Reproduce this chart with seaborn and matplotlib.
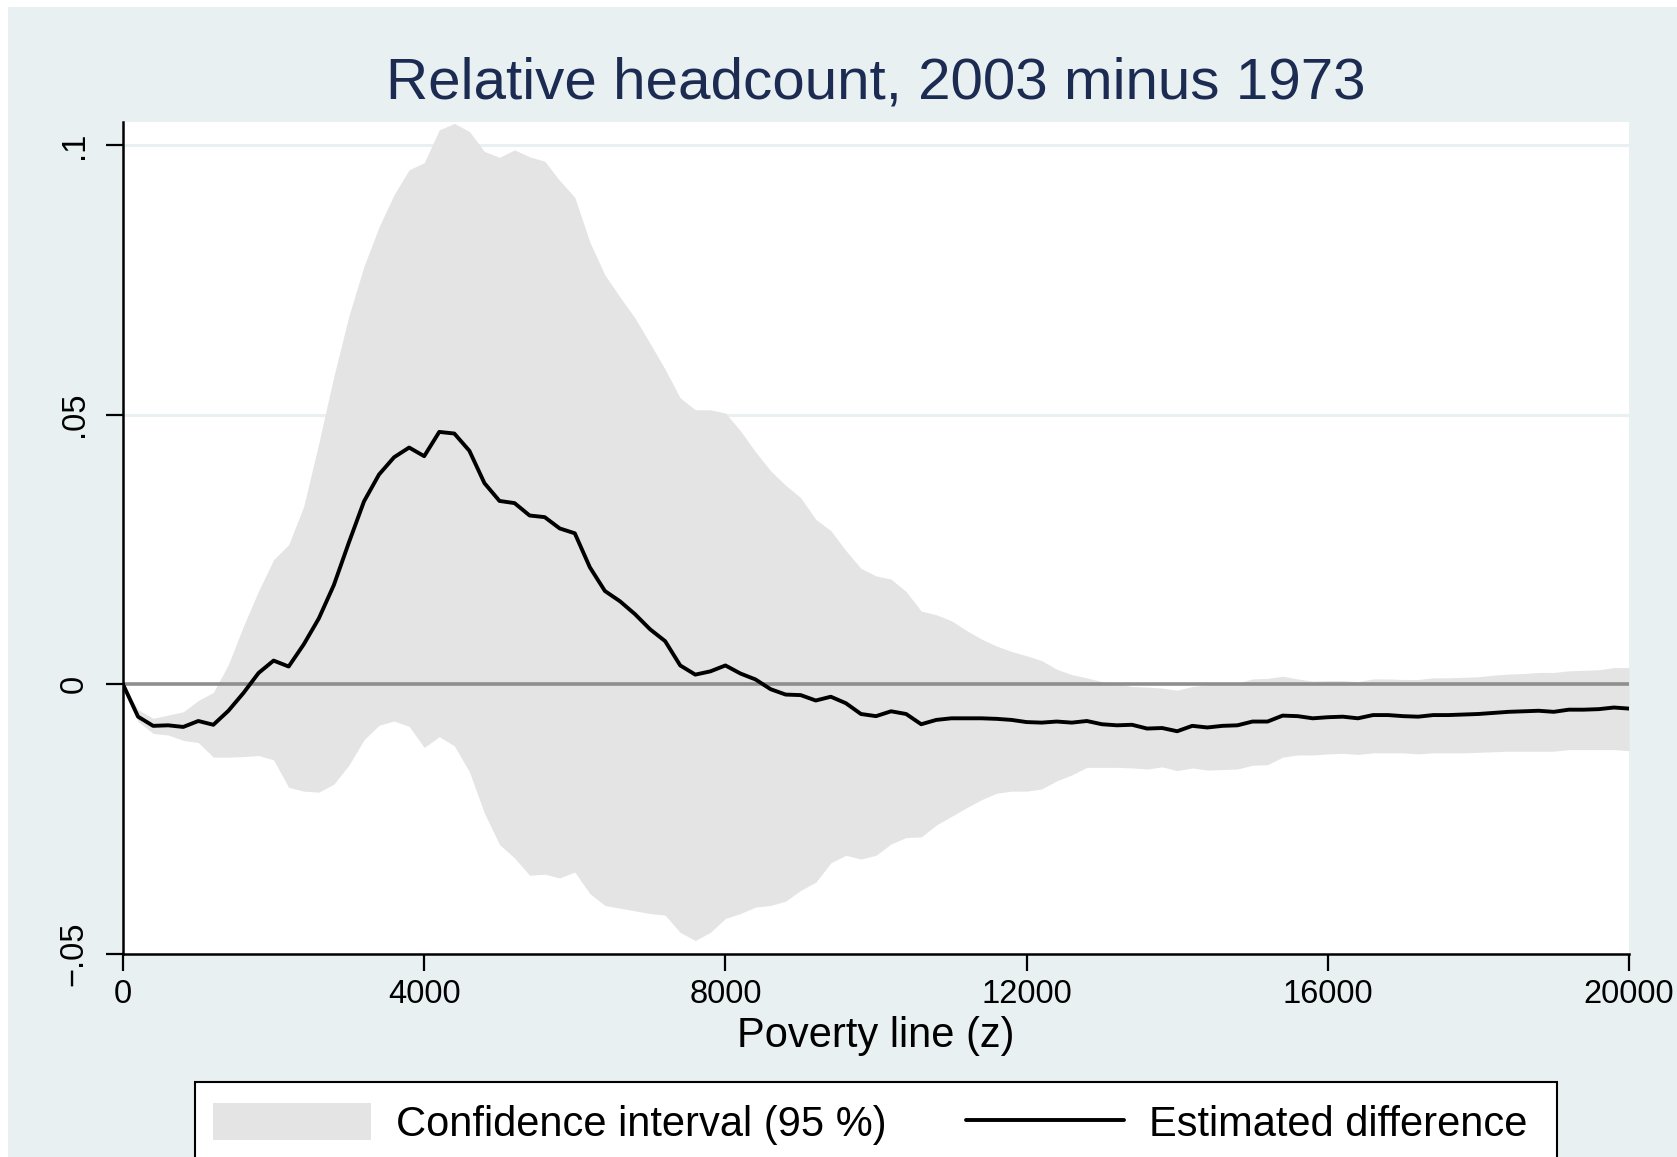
import matplotlib
matplotlib.use("Agg")
import matplotlib.pyplot as plt
import numpy as np
import seaborn as sns
from matplotlib.patches import Rectangle, Patch
from matplotlib.lines import Line2D

# poverty lines (z), steps of 200
poverty_line = np.arange(0, 20001, 200)

estimate = [
    0.0, -0.0060, -0.0077, -0.0076, -0.0079, -0.0068, -0.0075, -0.0049, -0.0016, 0.0021,
    0.0044, 0.0033, 0.0074, 0.0122, 0.0184, 0.0263, 0.0339, 0.0389, 0.0421, 0.0439,
    0.0423, 0.0468, 0.0465, 0.0433, 0.0373, 0.0340, 0.0336, 0.0313, 0.0310, 0.0289,
    0.0280, 0.0217, 0.0173, 0.0154, 0.0130, 0.0102, 0.0080, 0.0035, 0.0018, 0.0024,
    0.0035, 0.0020, 0.0009, -0.0009, -0.0019, -0.0020, -0.0030, -0.0023, -0.0035, -0.0055,
    -0.0059, -0.0050, -0.0055, -0.0074, -0.0066, -0.0063, -0.0063, -0.0063, -0.0064, -0.0066,
    -0.0070, -0.0071, -0.0069, -0.0071, -0.0068, -0.0074, -0.0076, -0.0075, -0.0082, -0.0081,
    -0.0087, -0.0077, -0.0080, -0.0077, -0.0076, -0.0069, -0.0069, -0.0058, -0.0059, -0.0063,
    -0.0061, -0.0060, -0.0063, -0.0057, -0.0057, -0.0059, -0.0060, -0.0057, -0.0057, -0.0056,
    -0.0055, -0.0053, -0.0051, -0.0050, -0.0049, -0.0051, -0.0047, -0.0047, -0.0046, -0.0043,
    -0.0045,
]

ci_upper = [
    0.0, -0.0047, -0.0063, -0.0057, -0.0051, -0.0030, -0.0015, 0.0037, 0.0108, 0.0173,
    0.0231, 0.0259, 0.0330, 0.0447, 0.0571, 0.0683, 0.0775, 0.0848, 0.0908, 0.0954,
    0.0967, 0.1028, 0.1040, 0.1025, 0.0988, 0.0977, 0.0991, 0.0978, 0.0970, 0.0934,
    0.0903, 0.0820, 0.0759, 0.0718, 0.0679, 0.0632, 0.0584, 0.0531, 0.0509, 0.0509,
    0.0503, 0.0470, 0.0431, 0.0396, 0.0369, 0.0346, 0.0306, 0.0285, 0.0248, 0.0215,
    0.0201, 0.0195, 0.0172, 0.0136, 0.0129, 0.0118, 0.0100, 0.0084, 0.0071, 0.0061,
    0.0053, 0.0044, 0.0028, 0.0018, 0.0012, 0.0005, 0.0001, -0.0004, -0.0005, -0.0007,
    -0.0011, -0.0004, -0.0001, 0.0002, 0.0002, 0.0010, 0.0011, 0.0015, 0.0010, 0.0006,
    0.0007, 0.0007, 0.0005, 0.0010, 0.0010, 0.0009, 0.0009, 0.0012, 0.0012, 0.0013,
    0.0014, 0.0017, 0.0019, 0.0020, 0.0022, 0.0022, 0.0025, 0.0026, 0.0027, 0.0031,
    0.0031,
]

ci_lower = [
    0.0, -0.0069, -0.0091, -0.0094, -0.0104, -0.0108, -0.0135, -0.0135, -0.0134, -0.0132,
    -0.0140, -0.0191, -0.0198, -0.0200, -0.0185, -0.0150, -0.0103, -0.0076, -0.0068, -0.0078,
    -0.0117, -0.0097, -0.0114, -0.0162, -0.0239, -0.0297, -0.0322, -0.0354, -0.0352, -0.0359,
    -0.0348, -0.0388, -0.0410, -0.0415, -0.0420, -0.0425, -0.0428, -0.0460, -0.0475, -0.0460,
    -0.0434, -0.0425, -0.0413, -0.0410, -0.0402, -0.0382, -0.0367, -0.0331, -0.0317, -0.0324,
    -0.0317, -0.0296, -0.0284, -0.0283, -0.0261, -0.0245, -0.0229, -0.0214, -0.0202, -0.0198,
    -0.0198, -0.0194, -0.0179, -0.0168, -0.0154, -0.0154, -0.0154, -0.0155, -0.0157, -0.0153,
    -0.0160, -0.0155, -0.0159, -0.0158, -0.0157, -0.0150, -0.0149, -0.0135, -0.0131, -0.0131,
    -0.0129, -0.0128, -0.0130, -0.0127, -0.0127, -0.0127, -0.0129, -0.0127, -0.0127, -0.0127,
    -0.0126, -0.0125, -0.0124, -0.0124, -0.0124, -0.0124, -0.0121, -0.0121, -0.0121, -0.0121,
    -0.0123,
]

y_ticks = [-0.05, 0, 0.05, 0.1]
y_ticklabels = ["\u2212.05", "0", ".05", ".1"]
x_ticks = [0, 4000, 8000, 12000, 16000, 20000]

sns.set_style("ticks")
plt.rcParams['font.family'] = ['Liberation Sans', 'DejaVu Sans']
plt.rcParams['xtick.labelcolor'] = 'black'
plt.rcParams['ytick.labelcolor'] = 'black'
plt.rcParams['text.color'] = 'black'

W, H = 1677, 1157
bg = '#E8F0F2'
band_color = '#E4E4E4'

fig = plt.figure(figsize=(W / 100, H / 100), dpi=100, facecolor='white')
# Stata-style graph region (small white strip on the left and top)
fig.patches.append(Rectangle((8 / W, 0), 1, 1 - 7 / H, transform=fig.transFigure,
                             facecolor=bg, edgecolor='none', zorder=-10))

ax = fig.add_axes([123 / W, (H - 954) / H, (1629 - 123) / W, (954 - 122) / H])
ax.set_facecolor('white')

# grid lines behind everything
for yv in [0.05, 0.1]:
    ax.axhline(yv, color=bg, lw=2.2, zorder=0)

ax.fill_between(poverty_line, ci_lower, ci_upper, color=band_color, lw=0, zorder=1)
ax.axhline(0, color='#8E8E8E', lw=2.6, zorder=2)
sns.lineplot(x=poverty_line, y=estimate, color='black', lw=2.8, ax=ax, zorder=3)

ax.set_xlim(0, 20000)
ax.set_ylim(-0.05, 0.10426)
ax.set_xticks(x_ticks)
ax.set_xticklabels([str(t) for t in x_ticks], fontsize=23.5)
ax.set_yticks(y_ticks)
ax.set_yticklabels(y_ticklabels, fontsize=23.5, rotation=90, va='center')
ax.tick_params(axis='x', length=12, width=1.6, pad=6, color='black')
ax.tick_params(axis='y', length=12, width=1.6, pad=12, color='black')
ax.set_xlabel('')
ax.set_ylabel('')
sns.despine(ax=ax)
for side in ['left', 'bottom']:
    ax.spines[side].set_linewidth(1.8)
    ax.spines[side].set_color('black')

fig.text((123 + 1629) / 2 / W, 1 - 83 / H, 'Relative headcount, 2003 minus 1973',
         ha='center', va='center', fontsize=42, color='#1C2B52')
fig.text((123 + 1629) / 2 / W, 1 - 1036 / H, 'Poverty line (z)',
         ha='center', va='center', fontsize=30, color='black')

# legend box (runs off the bottom edge like the original)
fig.patches.append(Rectangle((195 / W, -0.1), (1557 - 195) / W, 0.1 + (H - 1082) / H,
                             transform=fig.transFigure, facecolor='white',
                             edgecolor='black', lw=1.5, zorder=-5))
handles = [Patch(facecolor=band_color, edgecolor='none'),
           Line2D([0], [0], color='black', lw=2.8)]
fig.legend(handles, ['Confidence interval (95 %)', 'Estimated difference'],
           loc='center', bbox_to_anchor=(870 / W, 1 - 1124 / H), ncol=2,
           frameon=False, fontsize=30, handlelength=3.8, handleheight=1.0,
           handletextpad=0.6, columnspacing=1.9, borderpad=0)

fig.savefig('out.png', dpi=100, facecolor='white')
